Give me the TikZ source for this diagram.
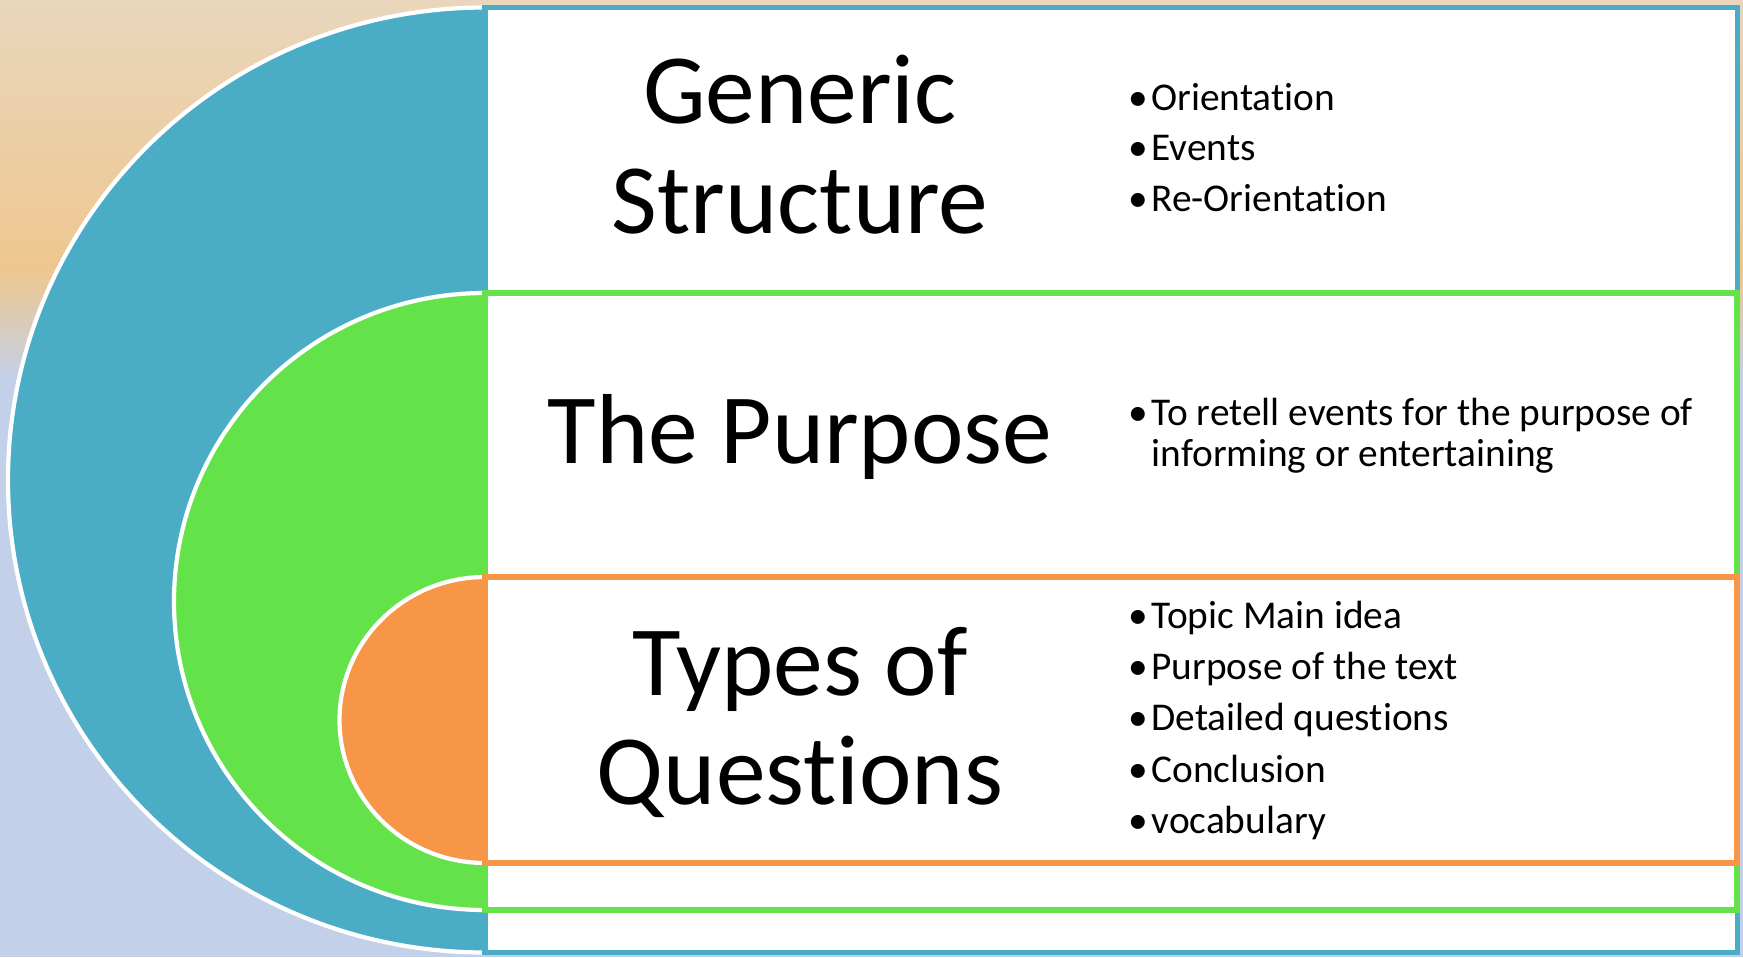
\documentclass[tikz,border=0pt]{standalone}
\usepackage{fontspec}
\setmainfont{Carlito}[Ligatures={NoCommon,NoContextual,NoRare}, RawFeature=-calt]

\definecolor{ringblue}{RGB}{75,172,198}
\definecolor{ringgreen}{RGB}{99,226,74}
\definecolor{ringorange}{RGB}{247,150,70}
\definecolor{bgtan}{RGB}{233,214,188}
\definecolor{bgpeach}{RGB}{238,199,143}
\definecolor{bgblue}{RGB}{195,208,234}

\tikzset{
  bigword/.style={anchor=base, inner sep=0pt, font=\fontsize{28.3}{31.3}\selectfont},
  point/.style={anchor=base west, inner sep=0pt, font=\fontsize{11.2}{11.9}\selectfont},
  halfdisc/.style={draw=white, line width=1.2pt},
  panel/.style={fill=white, line width=1.6pt}
}
\newcommand{\dotitem}[1]{\makebox[6.5pt][l]{•}#1}
% break the t-i ligature
\newcommand{\nolig}{\kern0pt}

\begin{document}
\begin{tikzpicture}
   \useasboundingbox (0,0) rectangle (17.43,9.57);
   % background
   \fill[top color=bgtan, bottom color=bgpeach] (0,6.86) rectangle (17.43,9.57);
   \fill[top color=bgpeach, bottom color=bgblue] (0,5.76) rectangle (17.43,6.87);
   \fill[color=bgblue] (0,0) rectangle (17.43,5.77);
   % outer ring
   \draw[halfdisc, fill=ringblue] (4.85,9.495) arc[start angle=90, end angle=270, x radius=4.77, y radius=4.725] -- cycle;
   \draw[panel, draw=ringblue] (4.85,0.045) rectangle (17.375,9.495);
   % middle ring
   \draw[halfdisc, fill=ringgreen] (4.85,6.64) arc[start angle=90, end angle=270, x radius=3.11, y radius=3.085] -- cycle;
   \draw[panel, draw=ringgreen] (4.85,0.47) rectangle (17.37,6.64);
   % inner ring
   \draw[halfdisc, fill=ringorange] (4.85,3.80) arc[start angle=90, end angle=270, x radius=1.455, y radius=1.43] -- cycle;
   \draw[panel, draw=ringorange] (4.85,0.94) rectangle (17.37,3.80);
   % titles
   \node[bigword] (generic) at (8.00,8.34) {Generic};
   \node[bigword] (structure) at (8.00,7.24) {Structure};
   \node[bigword] (purpose) at (8.00,4.94) {The Purpose};
   \node[bigword] (types) at (8.00,2.62) {Types of};
   \node[bigword] (questions) at (8.00,1.53) {Quest\nolig ions};
   % bullets
   \node[point] (orient) at (11.28,8.47) {\dotitem{Orientat\nolig ion}};
   \node[point] (events) at (11.28,7.97) {\dotitem{Events}};
   \node[point] (reorient) at (11.28,7.453) {\dotitem{Re-Orientat\nolig ion}};
   \node[point] (retell) at (11.28,5.32) {\dotitem{To retell events for the purpose of}};
   \node[point] (retellcont) at (11.51,4.903) {informing or entertaining};
   \node[point] (topic) at (11.28,3.29) {\dotitem{Topic Main idea}};
   \node[point] (textaim) at (11.28,2.78) {\dotitem{Purpose of the text}};
   \node[point] (detail) at (11.28,2.27) {\dotitem{Detailed quest\nolig ions}};
   \node[point] (conclude) at (11.28,1.75) {\dotitem{Conclusion}};
   \node[point] (vocab) at (11.28,1.24) {\dotitem{vocabulary}};
\end{tikzpicture}
\end{document}
